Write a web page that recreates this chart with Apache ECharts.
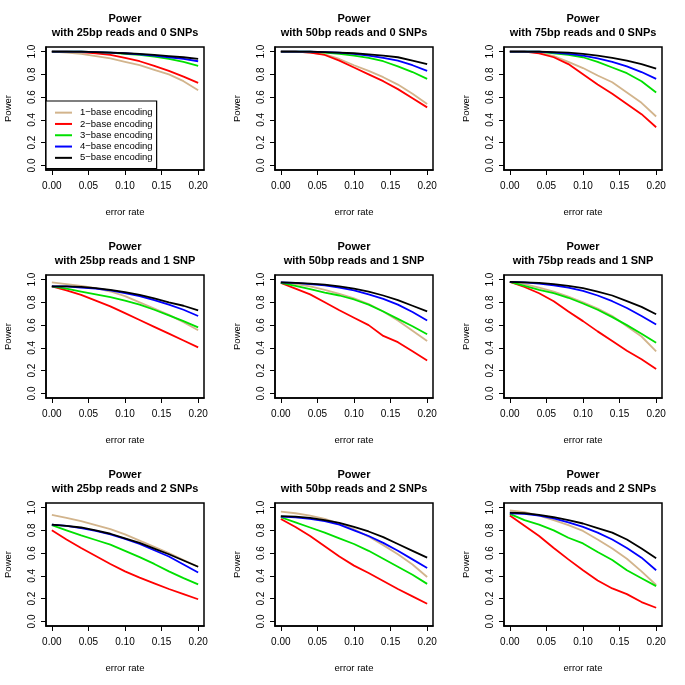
<!DOCTYPE html>
<html>
<head>
<meta charset="utf-8">
<script src="https://cdn.jsdelivr.net/npm/echarts@6/dist/echarts.min.js"></script>
<style>html,body{margin:0;padding:0;background:#fff}#c{width:685px;height:685px}</style>
</head>
<body>
<div id="c"></div>
<script>
// ---- data ----
const errorRate = [0, 0.02, 0.04, 0.06, 0.08, 0.10, 0.12, 0.14, 0.16, 0.18, 0.20];
const xTicks = [0, 0.05, 0.10, 0.15, 0.20];
const yTicks = [0, 0.2, 0.4, 0.6, 0.8, 1.0];
const encodings = ['1−base encoding', '2−base encoding', '3−base encoding', '4−base encoding', '5−base encoding'];
const readLengths = ['25bp', '50bp', '75bp'];
const snpLabels = ['0 SNPs', '1 SNP', '2 SNPs'];

// 25bp, 0 SNPs
const r25s0_b1 = [1, 0.99, 0.98, 0.96, 0.94, 0.91, 0.88, 0.84, 0.80, 0.74, 0.66];
const r25s0_b2 = [1, 1, 0.995, 0.985, 0.97, 0.945, 0.915, 0.875, 0.83, 0.78, 0.725];
const r25s0_b3 = [1, 1, 1, 0.995, 0.99, 0.98, 0.97, 0.955, 0.935, 0.91, 0.875];
const r25s0_b4 = [1, 1, 1, 0.995, 0.99, 0.985, 0.975, 0.965, 0.95, 0.935, 0.915];
const r25s0_b5 = [1, 1, 1, 0.995, 0.99, 0.985, 0.98, 0.97, 0.96, 0.95, 0.935];
// 50bp, 0 SNPs
const r50s0_b1 = [1, 1, 0.99, 0.975, 0.935, 0.88, 0.83, 0.775, 0.71, 0.63, 0.54];
const r50s0_b2 = [1, 1, 0.99, 0.97, 0.92, 0.86, 0.80, 0.74, 0.67, 0.59, 0.51];
const r50s0_b3 = [1, 1, 1, 0.99, 0.98, 0.965, 0.945, 0.915, 0.87, 0.82, 0.76];
const r50s0_b4 = [1, 1, 1, 0.995, 0.99, 0.98, 0.965, 0.945, 0.92, 0.88, 0.83];
const r50s0_b5 = [1, 1, 1, 0.995, 0.99, 0.985, 0.975, 0.965, 0.95, 0.92, 0.89];
// 75bp, 0 SNPs
const r75s0_b1 = [1, 1, 0.99, 0.96, 0.91, 0.855, 0.79, 0.73, 0.64, 0.55, 0.43];
const r75s0_b2 = [1, 1, 0.985, 0.95, 0.89, 0.80, 0.71, 0.63, 0.54, 0.45, 0.335];
const r75s0_b3 = [1, 1, 1, 0.985, 0.97, 0.95, 0.91, 0.86, 0.81, 0.74, 0.64];
const r75s0_b4 = [1, 1, 1, 0.99, 0.98, 0.965, 0.94, 0.91, 0.87, 0.82, 0.76];
const r75s0_b5 = [1, 1, 1, 0.995, 0.99, 0.98, 0.965, 0.945, 0.92, 0.89, 0.85];
// 25bp, 1 SNP
const r25s1_b1 = [0.975, 0.96, 0.945, 0.925, 0.895, 0.855, 0.80, 0.745, 0.69, 0.625, 0.555];
const r25s1_b2 = [0.94, 0.905, 0.865, 0.815, 0.765, 0.705, 0.645, 0.585, 0.525, 0.465, 0.405];
const r25s1_b3 = [0.94, 0.92, 0.895, 0.87, 0.845, 0.815, 0.78, 0.735, 0.685, 0.635, 0.58];
const r25s1_b4 = [0.94, 0.94, 0.93, 0.92, 0.905, 0.88, 0.855, 0.82, 0.78, 0.735, 0.68];
const r25s1_b5 = [0.94, 0.94, 0.935, 0.925, 0.91, 0.89, 0.865, 0.835, 0.80, 0.77, 0.73];
// 50bp, 1 SNP
const r50s1_b1 = [0.975, 0.96, 0.94, 0.91, 0.875, 0.835, 0.785, 0.72, 0.64, 0.55, 0.46];
const r50s1_b2 = [0.97, 0.92, 0.87, 0.80, 0.73, 0.665, 0.60, 0.505, 0.45, 0.37, 0.29];
const r50s1_b3 = [0.97, 0.945, 0.915, 0.885, 0.86, 0.825, 0.78, 0.72, 0.655, 0.59, 0.52];
const r50s1_b4 = [0.975, 0.97, 0.96, 0.95, 0.93, 0.905, 0.87, 0.83, 0.78, 0.715, 0.64];
const r50s1_b5 = [0.975, 0.97, 0.965, 0.955, 0.94, 0.92, 0.895, 0.86, 0.82, 0.77, 0.72];
// 75bp, 1 SNP
const r75s1_b1 = [0.98, 0.96, 0.93, 0.895, 0.85, 0.80, 0.745, 0.68, 0.59, 0.50, 0.37];
const r75s1_b2 = [0.98, 0.935, 0.88, 0.81, 0.72, 0.635, 0.545, 0.46, 0.375, 0.30, 0.215];
const r75s1_b3 = [0.98, 0.945, 0.91, 0.88, 0.84, 0.79, 0.735, 0.67, 0.60, 0.525, 0.445];
const r75s1_b4 = [0.98, 0.975, 0.965, 0.95, 0.93, 0.90, 0.86, 0.81, 0.75, 0.68, 0.605];
const r75s1_b5 = [0.98, 0.975, 0.97, 0.96, 0.945, 0.925, 0.895, 0.86, 0.81, 0.76, 0.695];
// 25bp, 2 SNPs
const r25s2_b1 = [0.935, 0.91, 0.88, 0.845, 0.81, 0.765, 0.71, 0.655, 0.60, 0.54, 0.48];
const r25s2_b2 = [0.80, 0.72, 0.645, 0.575, 0.505, 0.44, 0.385, 0.335, 0.285, 0.24, 0.195];
const r25s2_b3 = [0.845, 0.80, 0.755, 0.715, 0.675, 0.62, 0.565, 0.505, 0.44, 0.38, 0.325];
const r25s2_b4 = [0.85, 0.84, 0.82, 0.795, 0.765, 0.725, 0.68, 0.625, 0.57, 0.50, 0.43];
const r25s2_b5 = [0.85, 0.84, 0.825, 0.80, 0.77, 0.73, 0.69, 0.64, 0.59, 0.535, 0.48];
// 50bp, 2 SNPs
const r50s2_b1 = [0.965, 0.95, 0.93, 0.90, 0.86, 0.81, 0.745, 0.67, 0.59, 0.50, 0.39];
const r50s2_b2 = [0.90, 0.83, 0.75, 0.66, 0.57, 0.49, 0.425, 0.355, 0.285, 0.22, 0.155];
const r50s2_b3 = [0.915, 0.87, 0.825, 0.78, 0.73, 0.68, 0.62, 0.55, 0.48, 0.41, 0.33];
const r50s2_b4 = [0.92, 0.915, 0.90, 0.88, 0.85, 0.80, 0.75, 0.69, 0.62, 0.545, 0.47];
const r50s2_b5 = [0.925, 0.92, 0.91, 0.89, 0.865, 0.83, 0.79, 0.74, 0.68, 0.62, 0.56];
// 75bp, 2 SNPs
const r75s2_b1 = [0.975, 0.96, 0.93, 0.89, 0.845, 0.795, 0.72, 0.64, 0.55, 0.44, 0.32];
const r75s2_b2 = [0.93, 0.84, 0.75, 0.645, 0.545, 0.45, 0.36, 0.29, 0.24, 0.17, 0.12];
const r75s2_b3 = [0.945, 0.89, 0.85, 0.80, 0.735, 0.685, 0.61, 0.54, 0.45, 0.38, 0.31];
const r75s2_b4 = [0.95, 0.945, 0.93, 0.905, 0.87, 0.83, 0.78, 0.72, 0.645, 0.56, 0.45];
const r75s2_b5 = [0.955, 0.95, 0.935, 0.915, 0.89, 0.86, 0.82, 0.78, 0.72, 0.64, 0.555];

const panels = [
  [r25s0_b1, r25s0_b2, r25s0_b3, r25s0_b4, r25s0_b5],
  [r50s0_b1, r50s0_b2, r50s0_b3, r50s0_b4, r50s0_b5],
  [r75s0_b1, r75s0_b2, r75s0_b3, r75s0_b4, r75s0_b5],
  [r25s1_b1, r25s1_b2, r25s1_b3, r25s1_b4, r25s1_b5],
  [r50s1_b1, r50s1_b2, r50s1_b3, r50s1_b4, r50s1_b5],
  [r75s1_b1, r75s1_b2, r75s1_b3, r75s1_b4, r75s1_b5],
  [r25s2_b1, r25s2_b2, r25s2_b3, r25s2_b4, r25s2_b5],
  [r50s2_b1, r50s2_b2, r50s2_b3, r50s2_b4, r50s2_b5],
  [r75s2_b1, r75s2_b2, r75s2_b3, r75s2_b4, r75s2_b5]
];
const colors = ['#D2B48C', '#FF0000', '#00E000', '#0000FF', '#000000'];

// ---- layout ----
const colLeft = [46, 275, 504];
const rowTop = [47, 275, 503];
const boxW = 158, boxH = 123;
const FONT = 'Liberation Sans, Arial, Helvetica, sans-serif';

const grids = [], xAxes = [], yAxes = [], series = [], titles = [];
for (let r = 0; r < 3; r++) {
  for (let c = 0; c < 3; c++) {
    const i = r * 3 + c;
    grids.push({left: colLeft[c], top: rowTop[r], width: boxW, height: boxH,
      show: true, borderColor: '#000', borderWidth: 1.5, backgroundColor: 'transparent'});
    xAxes.push({type: 'value', gridIndex: i, min: -0.008, max: 0.208,
      axisLine: {show: true, onZero: false, lineStyle: {color: '#000', width: 1.5}}, splitLine: {show: false},
      axisTick: {show: true, inside: false, length: 5, customValues: xTicks, lineStyle: {color: '#000', width: 1}},
      axisLabel: {customValues: xTicks, formatter: v => v.toFixed(2), color: '#000', fontSize: 10, fontFamily: FONT, margin: 11},
      name: 'error rate', nameLocation: 'middle', nameGap: 37,
      nameTextStyle: {color: '#000', fontSize: 9.5, fontFamily: FONT}});
    yAxes.push({type: 'value', gridIndex: i, min: -0.04, max: 1.04,
      axisLine: {show: true, onZero: false, lineStyle: {color: '#000', width: 1.5}}, splitLine: {show: false},
      axisTick: {show: true, inside: false, length: 5, customValues: yTicks, lineStyle: {color: '#000', width: 1}},
      axisLabel: {customValues: yTicks, formatter: v => v.toFixed(1), color: '#000', fontSize: 10, fontFamily: FONT, rotate: 90, margin: 9},
      name: 'Power', nameLocation: 'middle', nameGap: 33,
      nameTextStyle: {color: '#000', fontSize: 9.5, fontFamily: FONT}});
    titles.push({text: 'Power\nwith ' + readLengths[c] + ' reads and ' + snpLabels[r],
      left: colLeft[c] + boxW / 2, textAlign: 'center', top: rowTop[r] - 35, padding: 0,
      textStyle: {fontSize: 11, fontWeight: 'bold', color: '#000', fontFamily: FONT, lineHeight: 14}});
    for (let k = 0; k < 5; k++) {
      series.push({type: 'line', name: encodings[k], xAxisIndex: i, yAxisIndex: i,
        showSymbol: false, symbol: 'none', silent: true, z: 2 + k,
        lineStyle: {color: colors[k], width: 1.8}, itemStyle: {color: colors[k]},
        data: errorRate.map((x, j) => [x, panels[i][k][j]])});
    }
  }
}

const chart = echarts.init(document.getElementById('c'), null, {renderer: 'canvas'});
chart.setOption({
  animation: false,
  backgroundColor: '#fff',
  title: titles,
  grid: grids,
  xAxis: xAxes,
  yAxis: yAxes,
  legend: {show: true, orient: 'vertical', left: 46, top: 101, z: 20,
    data: encodings, icon: 'rect', itemWidth: 17, itemHeight: 2, itemGap: 0,
    padding: [6, 4, 5, 9], backgroundColor: '#fff', borderColor: '#000', borderWidth: 1.2,
    selectedMode: false,
    textStyle: {fontSize: 9.5, fontFamily: FONT, color: '#000', lineHeight: 11.3, padding: [0, 0, 0, 3]}},
  series: series
});
</script>
</body>
</html>
